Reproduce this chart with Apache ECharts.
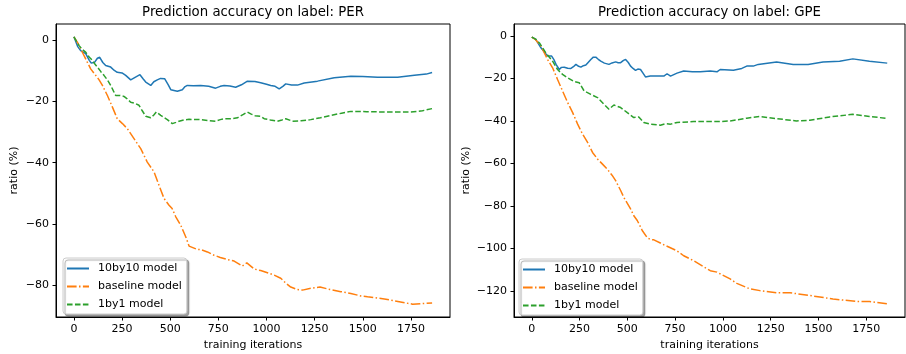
<!DOCTYPE html>
<html>
<head>
<meta charset="utf-8">
<script src="https://cdn.jsdelivr.net/npm/echarts@6/dist/echarts.min.js"></script>
<style>
  html, body { margin: 0; padding: 0; background: #fff; }
  #chart { width: 906px; height: 354px; }
</style>
</head>
<body>
<div id="chart"></div>
<script>
// ---- data: [training iteration, ratio (%)] ----
const seriesNames = ['10by10 model', 'baseline model', '1by1 model'];
const panelTitles = ['Prediction accuracy on label: PER', 'Prediction accuracy on label: GPE'];
const xTicks = [0, 250, 500, 750, 1000, 1250, 1500, 1750];
const perYTicks = [0, -20, -40, -60, -80];
const gpeYTicks = [0, -20, -40, -60, -80, -100, -120];

const per10by10 = [[0,1.2],[20,-2.0],[35,-3.3],[61,-4.3],[80,-6.5],[90,-7.4],[108,-7.1],[122,-5.8],[134,-5.5],[150,-7.2],[165,-8.2],[191,-8.7],[210,-9.8],[225,-10.4],[250,-10.6],[269,-11.4],[295,-12.9],[320,-12.0],[343,-11.2],[360,-12.6],[373,-13.6],[399,-14.7],[415,-13.5],[433,-12.9],[450,-12.4],[471,-12.5],[490,-14.5],[503,-16.1],[537,-16.6],[563,-16.1],[575,-15.2],[589,-14.7],[620,-14.8],[658,-14.7],[700,-15.0],[736,-15.6],[760,-15.0],[780,-14.7],[810,-14.9],[840,-15.3],[870,-14.5],[901,-13.3],[940,-13.4],[970,-13.8],[1000,-14.3],[1022,-14.7],[1045,-15.0],[1066,-15.8],[1085,-15.0],[1100,-14.2],[1130,-14.6],[1161,-14.6],[1196,-13.9],[1265,-13.3],[1352,-12.2],[1438,-11.7],[1500,-11.8],[1577,-12.0],[1681,-12.0],[1768,-11.4],[1830,-11.0],[1860,-10.5]];
const perBaseline = [[0,1.2],[20,-0.8],[35,-2.7],[61,-6.0],[87,-9.3],[113,-11.4],[130,-12.8],[148,-14.7],[174,-18.0],[200,-21.8],[225,-25.6],[252,-27.2],[278,-28.9],[312,-32.1],[347,-35.4],[381,-39.8],[416,-43.0],[442,-47.4],[468,-51.7],[494,-53.9],[510,-55.0],[529,-57.7],[555,-60.5],[581,-64.3],[598,-67.3],[607,-67.8],[641,-68.4],[658,-68.4],[693,-69.2],[728,-70.3],[760,-71.0],[797,-71.7],[832,-72.2],[875,-73.8],[898,-72.8],[936,-74.8],[970,-75.3],[1005,-76.0],[1040,-76.8],[1074,-77.8],[1100,-79.4],[1126,-80.7],[1160,-81.5],[1187,-81.7],[1230,-81.1],[1278,-80.7],[1330,-81.5],[1386,-82.2],[1438,-82.8],[1490,-83.6],[1525,-83.9],[1612,-84.6],[1663,-85.2],[1759,-86.3],[1810,-86.1],[1860,-85.9]];
const per1by1 = [[0,1.2],[26,-1.6],[45,-3.0],[61,-3.8],[80,-5.5],[96,-6.5],[110,-7.8],[122,-8.7],[140,-10.2],[156,-11.4],[175,-13.0],[191,-14.7],[205,-16.5],[217,-18.0],[240,-18.0],[260,-18.3],[275,-19.0],[295,-20.2],[315,-20.5],[338,-21.2],[355,-23.0],[373,-24.8],[399,-25.3],[415,-24.4],[428,-23.4],[451,-24.5],[470,-25.3],[485,-25.9],[511,-27.2],[530,-26.8],[546,-26.4],[570,-26.0],[598,-25.8],[658,-25.9],[700,-26.2],[736,-26.4],[760,-25.9],[780,-25.6],[820,-25.6],[849,-25.3],[880,-24.2],[901,-23.4],[918,-24.0],[940,-24.6],[970,-24.8],[988,-25.6],[1020,-26.0],[1057,-26.4],[1080,-26.0],[1100,-25.6],[1135,-26.4],[1180,-26.3],[1230,-25.9],[1280,-25.3],[1334,-24.5],[1390,-23.8],[1438,-23.2],[1520,-23.3],[1612,-23.4],[1750,-23.4],[1810,-23.0],[1860,-22.3]];

const gpe10by10 = [[0,-0.6],[20,-1.5],[48,-5.6],[70,-8.0],[83,-9.5],[104,-9.5],[115,-11.0],[127,-13.4],[144,-15.8],[155,-14.8],[170,-14.7],[188,-15.2],[205,-15.3],[218,-14.5],[231,-13.4],[245,-14.3],[257,-14.7],[270,-14.0],[283,-13.7],[295,-12.5],[309,-11.1],[322,-10.0],[335,-10.0],[348,-11.0],[361,-11.9],[380,-12.8],[404,-13.4],[420,-12.7],[439,-12.2],[452,-12.6],[465,-12.6],[480,-11.5],[491,-11.1],[505,-12.5],[517,-14.2],[530,-15.3],[543,-16.2],[555,-15.6],[569,-15.8],[582,-17.5],[595,-19.3],[620,-18.9],[660,-18.9],[691,-18.9],[708,-17.8],[726,-18.9],[760,-17.5],[795,-16.5],[840,-16.9],[882,-16.9],[934,-16.5],[969,-16.9],[986,-15.8],[1055,-16.1],[1099,-15.3],[1125,-14.2],[1159,-14.2],[1185,-13.4],[1281,-12.3],[1368,-13.4],[1446,-13.4],[1524,-12.3],[1611,-11.9],[1680,-10.8],[1767,-11.9],[1860,-12.8]];
const gpeBaseline = [[0,-0.6],[20,-1.8],[48,-4.8],[83,-11.1],[109,-15.0],[135,-20.5],[161,-25.9],[188,-31.4],[214,-36.1],[240,-41.5],[266,-46.2],[292,-50.1],[318,-54.8],[344,-57.9],[370,-60.3],[396,-62.8],[420,-65.5],[439,-68.1],[465,-72.7],[482,-76.0],[491,-77.4],[517,-81.4],[534,-84.6],[552,-86.8],[578,-91.5],[604,-94.9],[621,-95.8],[639,-95.9],[691,-98.2],[760,-101.1],[795,-103.4],[847,-105.7],[900,-108.6],[934,-110.4],[969,-111.1],[1038,-114.3],[1073,-116.4],[1142,-119.0],[1194,-119.8],[1281,-120.8],[1351,-120.8],[1455,-122.1],[1576,-123.7],[1698,-124.9],[1767,-124.9],[1860,-126.0]];
const gpe1by1 = [[0,-0.6],[20,-1.5],[40,-3.3],[74,-8.0],[109,-11.9],[135,-15.8],[161,-18.1],[188,-19.7],[222,-21.5],[248,-22.0],[274,-25.9],[309,-27.5],[344,-29.0],[378,-32.2],[404,-34.5],[430,-32.5],[465,-33.7],[500,-36.1],[534,-38.4],[560,-38.1],[586,-40.7],[621,-41.5],[673,-42.0],[700,-41.3],[726,-41.5],[760,-40.7],[847,-40.3],[934,-40.3],[986,-40.3],[1038,-40.0],[1125,-38.7],[1194,-37.9],[1281,-38.9],[1385,-40.0],[1455,-39.7],[1559,-38.1],[1680,-36.9],[1767,-37.9],[1860,-38.8]];

// ---- styling ----
const FONT = 'DejaVu Sans';
const LABEL_SIZE = 11;
const TITLE_SIZE = 13.3;
const colors = ['#1f77b4', '#ff7f0e', '#2ca02c'];
const lineTypes = ['solid', [9.6, 2.4, 1.5, 2.4], [5.55, 2.4]];
const minus = v => String(v).replace('-', '\u2212');

const grids = [
  { left: 56, top: 24, width: 394, height: 293 },
  { left: 514, top: 24, width: 391, height: 293 }
];
const yRanges = [[-90.5, 5.4], [-132.2, 5.6]];
const yTickSets = [perYTicks, gpeYTicks];
const panelData = [[per10by10, perBaseline, per1by1], [gpe10by10, gpeBaseline, gpe1by1]];

const chart = echarts.init(document.getElementById('chart'), null, { renderer: 'canvas' });

const option = {
  animation: false,
  backgroundColor: '#fff',
  textStyle: { fontFamily: FONT },
  grid: grids.map(g => Object.assign({
    show: true, borderColor: '#000', borderWidth: 1, backgroundColor: 'transparent',
    containLabel: false, outerBoundsMode: 'none'
  }, g)),
  xAxis: grids.map((g, i) => ({
    type: 'value', gridIndex: i, min: -93, max: 1953,
    name: 'training iterations', nameLocation: 'middle', nameGap: 22,
    nameTextStyle: { fontFamily: FONT, fontSize: LABEL_SIZE, color: '#000', verticalAlign: 'top' },
    axisLine: { show: true, onZero: false, lineStyle: { color: '#000', width: 1 } },
    axisTick: { show: true, length: 3.5, lineStyle: { color: '#000' }, customValues: xTicks },
    axisLabel: { fontFamily: FONT, fontSize: LABEL_SIZE, color: '#000', margin: 7, customValues: xTicks, formatter: minus },
    splitLine: { show: false }
  })),
  yAxis: grids.map((g, i) => ({
    type: 'value', gridIndex: i, min: yRanges[i][0], max: yRanges[i][1],
    name: 'ratio (%)', nameLocation: 'middle', nameGap: i === 0 ? 36 : 42, nameRotate: 90,
    nameTextStyle: { fontFamily: FONT, fontSize: LABEL_SIZE, color: '#000' },
    axisLine: { show: true, onZero: false, lineStyle: { color: '#000', width: 1 } },
    axisTick: { show: true, length: 3.5, lineStyle: { color: '#000' }, customValues: yTickSets[i] },
    axisLabel: { fontFamily: FONT, fontSize: LABEL_SIZE, color: '#000', margin: 7, customValues: yTickSets[i], formatter: minus },
    splitLine: { show: false }
  })),
  legend: [
    { left: 63, top: 258 },
    { left: 519, top: 259 }
  ].map(pos => Object.assign({
    orient: 'vertical', data: seriesNames,
    itemWidth: 22, itemHeight: 10, itemGap: 7,
    padding: [5, 5, 4, 3],
    backgroundColor: '#fff', borderColor: '#cccccc', borderWidth: 1, borderRadius: 3,
    shadowColor: 'rgba(0,0,0,0.35)', shadowBlur: 1, shadowOffsetX: 2, shadowOffsetY: 2,
    selectedMode: false,
    itemStyle: { opacity: 0 },
    textStyle: { fontFamily: FONT, fontSize: LABEL_SIZE, color: '#000', padding: [0, 0, 0, 4] }
  }, pos)),
  graphic: grids.map((g, i) => ({
    type: 'text', x: g.left + g.width / 2, y: 13,
    style: { text: panelTitles[i], fontFamily: FONT, fontSize: TITLE_SIZE, fill: '#000', textAlign: 'center', textVerticalAlign: 'middle' }
  })),
  series: []
};

panelData.forEach((set, gi) => {
  set.forEach((data, si) => {
    option.series.push({
      type: 'line', name: seriesNames[si], xAxisIndex: gi, yAxisIndex: gi,
      data: data, symbol: 'none', showSymbol: false,
      lineStyle: { color: colors[si], width: 1.5, type: lineTypes[si] },
      itemStyle: { color: colors[si] },
      z: 2 + si
    });
  });
});

chart.setOption(option);
</script>
</body>
</html>
